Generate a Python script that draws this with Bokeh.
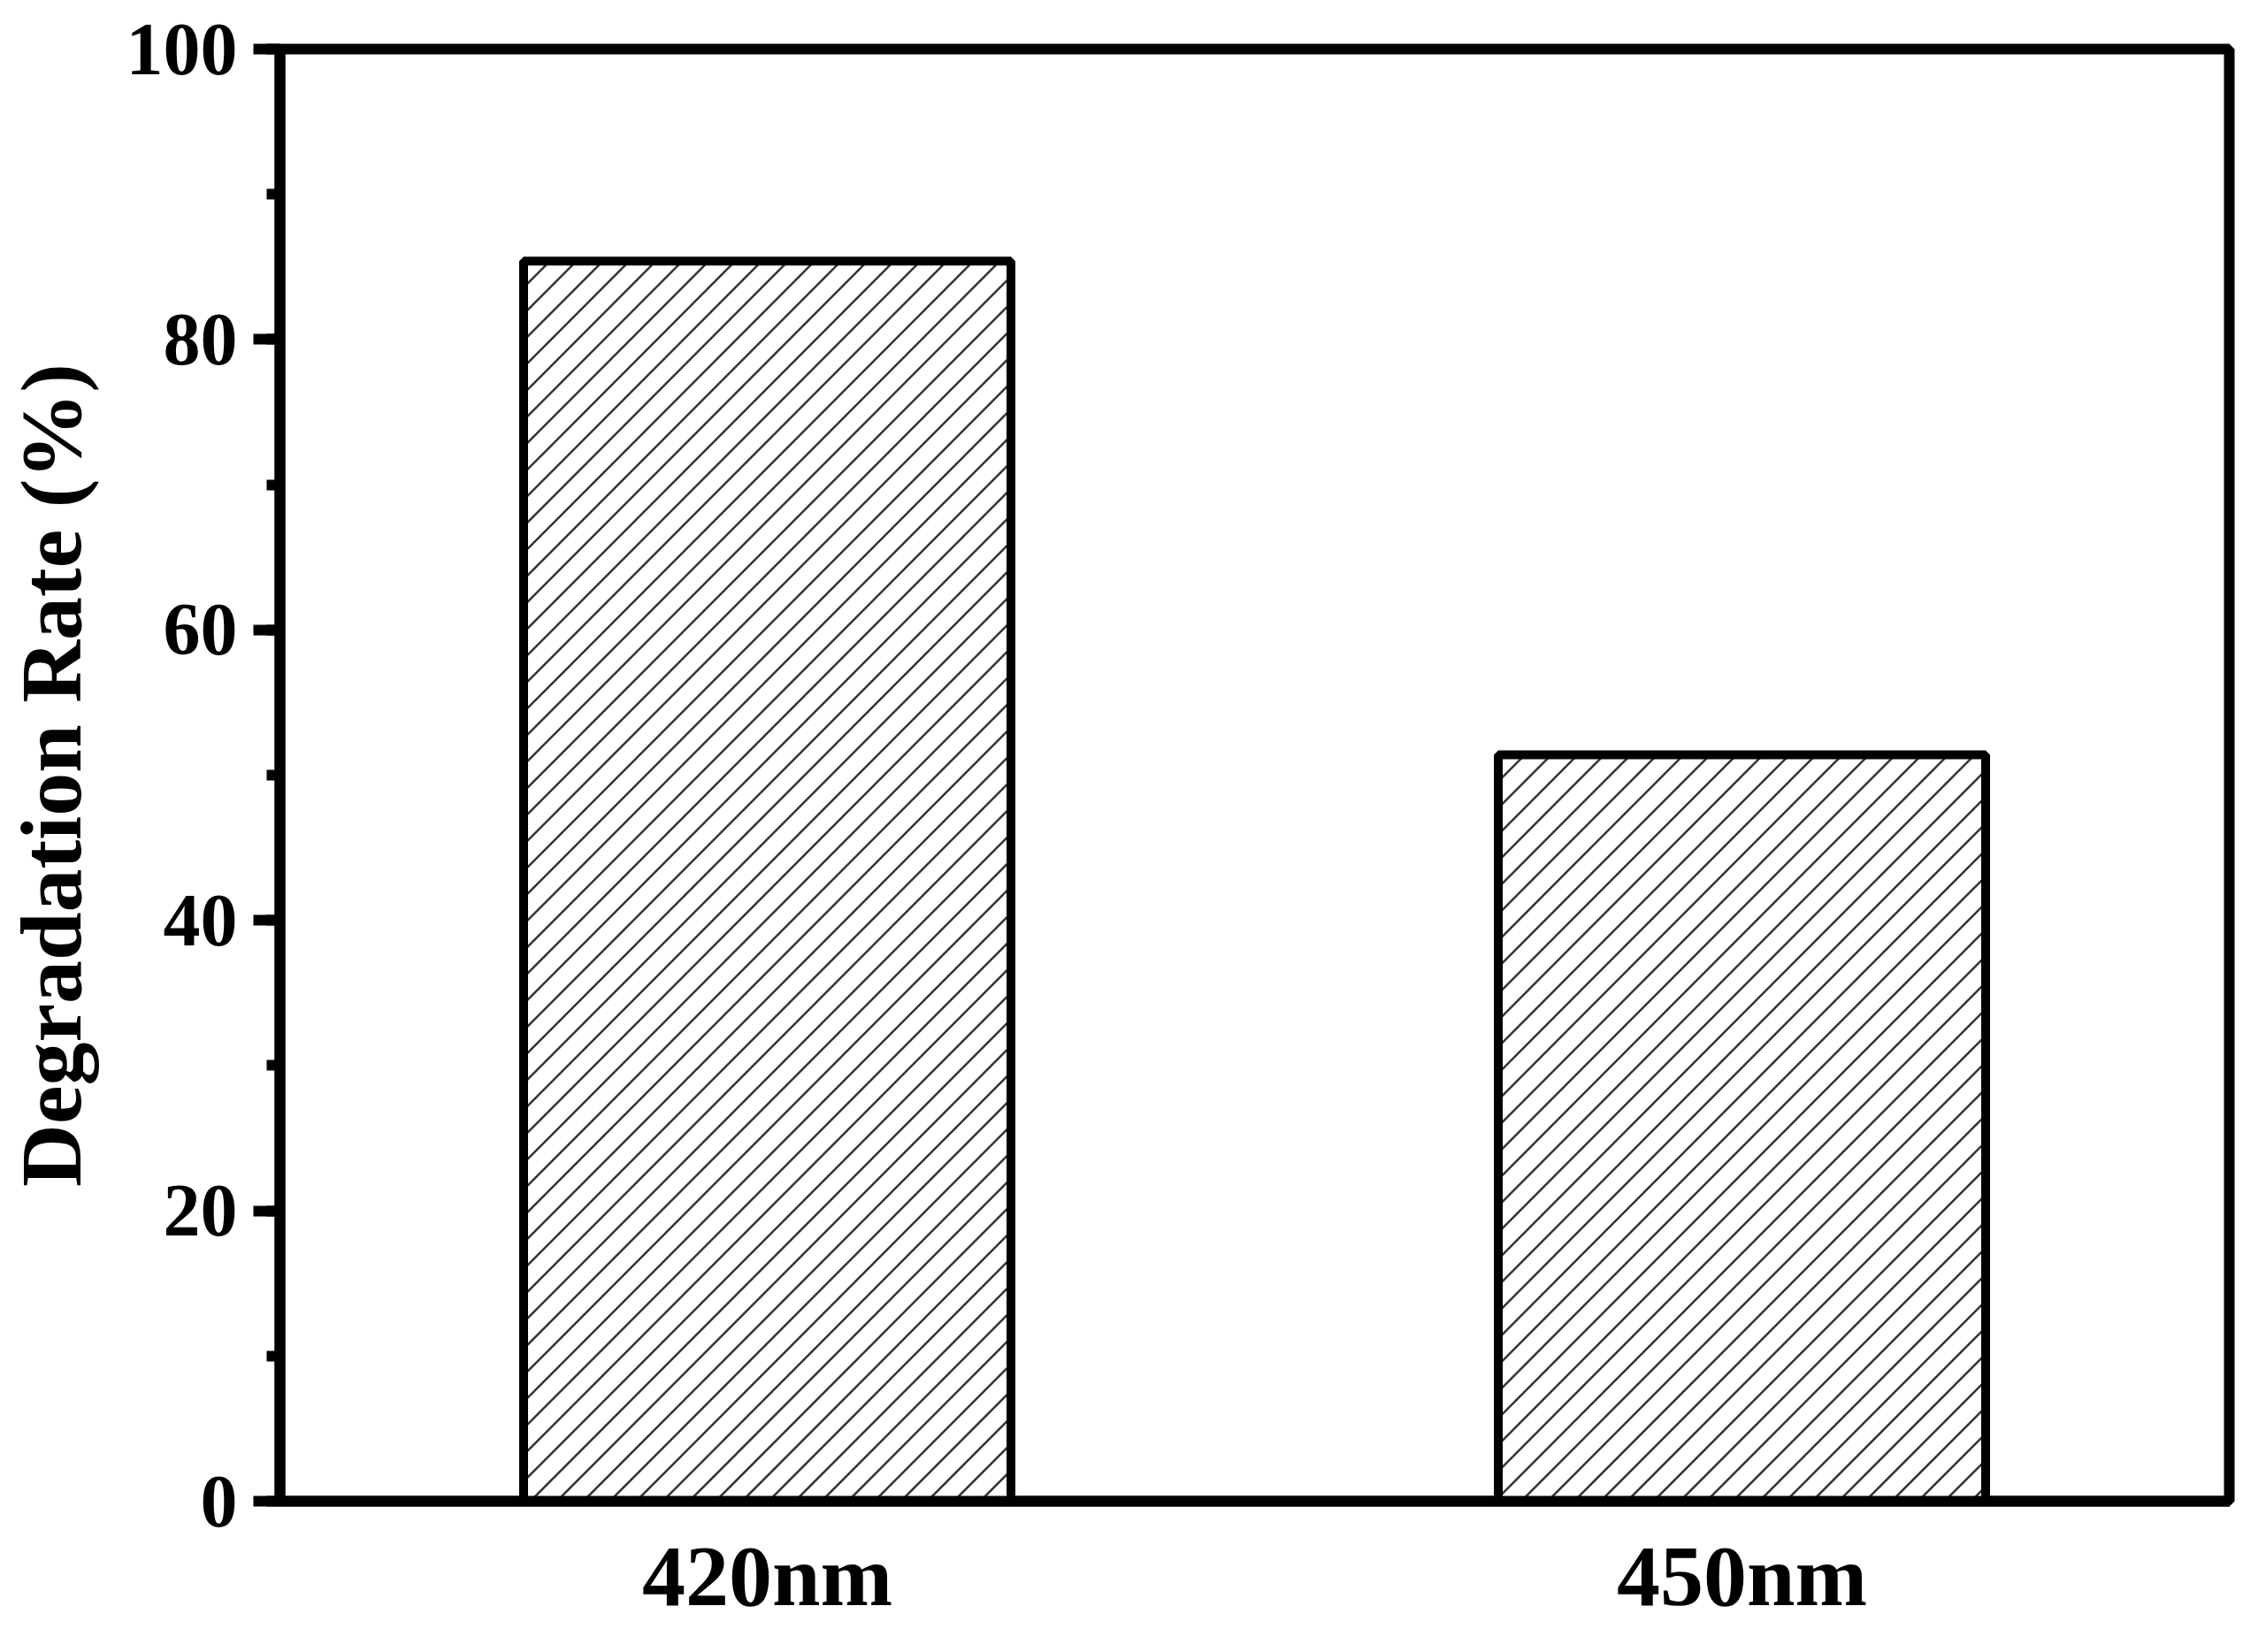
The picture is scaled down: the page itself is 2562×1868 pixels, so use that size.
from bokeh.plotting import figure
from bokeh.models import Range1d, FactorRange, SingleIntervalTicker
from bokeh.embed import file_html
from bokeh.resources import INLINE

# Data
categories = ["420nm", "450nm"]
degradation_rate = [85.4, 51.4]
y_tick_interval = 20
y_minor_per_major = 2

FONT = "Liberation Serif"

# layout (pixels)
W, H = 2544, 1850
BL, BR, BT, BB = 310, 24, 55, 153
FW, FH = W - BL - BR, H - BT - BB
BAR_W = 0.5
HATCH_STEP = 30.0  # horizontal spacing of hatch lines in px

# synthetic x-coordinates of the categorical factors
xpos = [i + 0.5 for i in range(len(categories))]
x_lo, x_hi = 0, len(categories)
y_lo, y_hi = 0, 100

p = figure(
    x_range=FactorRange(*categories, range_padding=0),
    y_range=Range1d(y_lo, y_hi),
    width=W, height=H,
    min_border_left=BL, min_border_right=BR,
    min_border_top=BT, min_border_bottom=BB,
    output_backend="svg", toolbar_location=None,
)

# hatch lines (45 degrees in screen space), clipped to each bar
sx = FW / (x_hi - x_lo)
sy = FH / (y_hi - y_lo)
hx, hy = [], []
for xc, top in zip(xpos, degradation_rate):
    L = (xc - BAR_W / 2) * sx
    R = (xc + BAR_W / 2) * sx
    T = top * sy
    k = L - T
    while k < R:
        pts = []
        for X in (L, R):
            Y = X - k
            if 0 <= Y <= T:
                pts.append((X, Y))
        for Y in (0.0, T):
            X = Y + k
            if L <= X <= R:
                pts.append((X, Y))
        if len(pts) >= 2:
            pts = sorted(set(pts))
            a, b = pts[0], pts[-1]
            hx.append([a[0] / sx, b[0] / sx])
            hy.append([a[1] / sy, b[1] / sy])
        k += HATCH_STEP

p.vbar(x=categories, top=degradation_rate, width=BAR_W,
       fill_color="white", line_color=None)
p.multi_line(xs=hx, ys=hy, line_color="#333333", line_width=2.5)
p.vbar(x=categories, top=degradation_rate, width=BAR_W,
       fill_color=None, line_color="black", line_width=10)

p.xgrid.visible = False
p.ygrid.visible = False

p.outline_line_color = "black"
p.outline_line_width = 12

# Y axis
ya = p.yaxis[0]
ya.ticker = SingleIntervalTicker(interval=y_tick_interval, num_minor_ticks=y_minor_per_major)
ya.axis_line_width = 12
ya.axis_line_color = "black"
ya.major_tick_in = 0
ya.major_tick_out = 30
ya.major_tick_line_width = 12
ya.minor_tick_in = 0
ya.minor_tick_out = 15
ya.minor_tick_line_width = 12
ya.major_label_text_font = FONT
ya.major_label_text_font_style = "bold"
ya.major_label_text_font_size = "84px"
ya.major_label_text_color = "black"
ya.major_label_standoff = 18
ya.axis_label = "Degradation Rate (%)"
ya.axis_label_text_font = FONT
ya.axis_label_text_font_style = "bold"
ya.axis_label_text_font_size = "98px"
ya.axis_label_text_color = "black"
ya.axis_label_standoff = 28

# X axis
xa = p.xaxis[0]
xa.axis_line_width = 12
xa.axis_line_color = "black"
xa.major_tick_in = 0
xa.major_tick_out = 0
xa.major_label_text_font = FONT
xa.major_label_text_font_style = "bold"
xa.major_label_text_font_size = "98px"
xa.major_label_text_color = "black"
xa.major_label_standoff = 30

open("out.html", "w").write(file_html(p, INLINE))
